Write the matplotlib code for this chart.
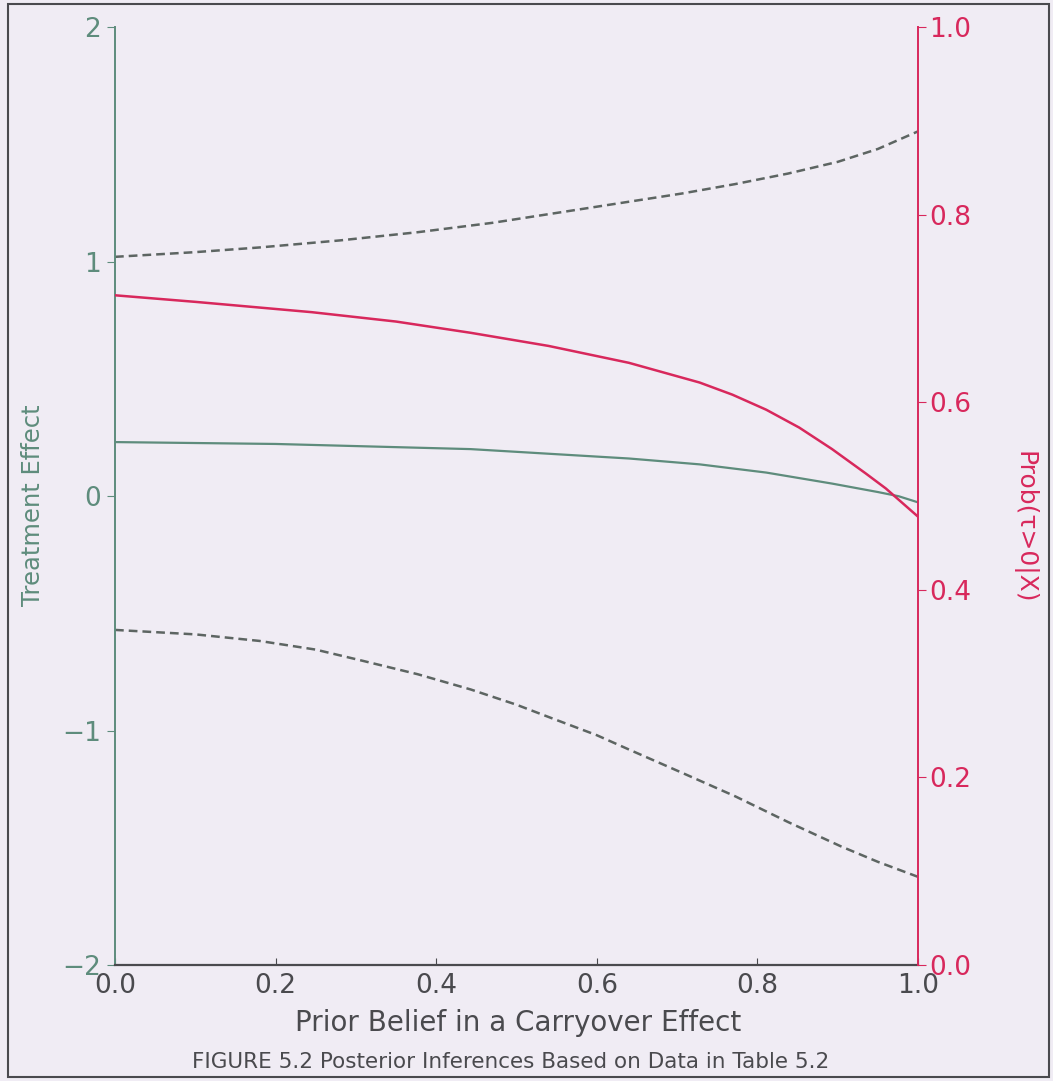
import numpy as np
import matplotlib.pyplot as plt
from matplotlib.patches import Rectangle

# treatment effect: upper interval limit
x_upper = [0.0, 0.1, 0.18, 0.28, 0.377, 0.47, 0.574, 0.64, 0.706, 0.772, 0.838, 0.9, 0.95, 1.0]
upper = [1.02, 1.04, 1.06, 1.09, 1.125, 1.165, 1.22, 1.255, 1.29, 1.33, 1.375, 1.425, 1.48, 1.555]

# treatment effect: posterior mean
x_mean = [0.0, 0.2, 0.443, 0.64, 0.728, 0.811, 0.893, 0.95, 0.976, 1.0]
mean = [0.23, 0.222, 0.20, 0.16, 0.135, 0.10, 0.053, 0.017, -0.001, -0.027]

# treatment effect: lower interval limit
x_lower = [0.0, 0.1, 0.18, 0.25, 0.31, 0.377, 0.443, 0.5, 0.542, 0.6, 0.64, 0.706, 0.772, 0.838, 0.904, 0.95, 1.0]
lower = [-0.571, -0.59, -0.618, -0.655, -0.704, -0.76, -0.825, -0.89, -0.945, -1.02, -1.081, -1.18, -1.28, -1.39, -1.494, -1.56, -1.624]

# posterior probability that the treatment effect is positive
x_prob = [0.0, 0.1, 0.245, 0.35, 0.443, 0.54, 0.64, 0.728, 0.769, 0.811, 0.852, 0.893, 0.935, 0.96, 0.976, 1.0]
prob_pos = [0.714, 0.707, 0.696, 0.686, 0.674, 0.660, 0.642, 0.621, 0.608, 0.592, 0.573, 0.550, 0.524, 0.508, 0.496, 0.478]

xticks = [0.0, 0.2, 0.4, 0.6, 0.8, 1.0]
left_ticks = [-2, -1, 0, 1, 2]
right_ticks = [0.0, 0.2, 0.4, 0.6, 0.8, 1.0]

bg = '#f0ecf4'
green = '#5e8c7c'
red = '#d8285c'
grey = '#5d6562'
dark = '#4a4a4e'

plt.rcParams['font.family'] = ['DejaVu Sans']

fig = plt.figure(figsize=(10.53, 10.81), dpi=100, facecolor=bg)
ax = fig.add_axes([0.1092, 0.1073, 0.7626, 0.8677])
ax.set_facecolor(bg)

ax.plot(x_upper, upper, color=grey, lw=1.8, ls=(0, (3.5, 2)))
ax.plot(x_lower, lower, color=grey, lw=1.8, ls=(0, (3.5, 2)))
ax.plot(x_mean, mean, color=green, lw=1.6)

ax.set_xlim(0, 1)
ax.set_ylim(-2, 2)
ax.set_xticks(xticks)
ax.set_xticklabels(['%.1f' % t for t in xticks], fontsize=19, color=dark)
ax.set_yticks(left_ticks)
ax.set_yticklabels(['\u2212' + str(-t) if t < 0 else str(t) for t in left_ticks],
                   fontsize=19, color=green)
ax.tick_params(axis='x', direction='in', length=5, color=dark, pad=6)
ax.tick_params(axis='y', direction='out', length=6, color=green, pad=4)
ax.set_xlabel('Prior Belief in a Carryover Effect', fontsize=20, color=dark)
ax.xaxis.set_label_coords(0.502, -0.047)
ax.set_ylabel('Treatment Effect', fontsize=17.5, color=green, va='center')
ax.yaxis.set_label_coords(-0.102, 0.49)

for s in ['top', 'right']:
    ax.spines[s].set_visible(False)
ax.spines['left'].set_color(green)
ax.spines['bottom'].set_color(dark)
ax.spines['left'].set_linewidth(1.4)
ax.spines['bottom'].set_linewidth(1.6)

ax2 = ax.twinx()
ax2.plot(x_prob, prob_pos, color=red, lw=1.8)
ax2.set_ylim(0, 1)
ax2.set_yticks(right_ticks)
ax2.set_yticklabels(['%.1f' % t for t in right_ticks], fontsize=19, color=red)
ax2.tick_params(axis='y', direction='out', length=6, color=red, pad=2)
ax2.set_ylabel('Prob(\u03c4>0|X)', fontsize=18, color=red, rotation=270,
               va='center', ha='center')
ax2.yaxis.set_label_coords(1.132, 0.467)
for s in ['top', 'left', 'bottom']:
    ax2.spines[s].set_visible(False)
ax2.spines['right'].set_color(red)
ax2.spines['right'].set_linewidth(1.4)

fig.text(0.485, 0.0176, 'FIGURE 5.2 Posterior Inferences Based on Data in Table 5.2',
         ha='center', va='center', fontsize=15.5, color=dark)

fig.patches.append(Rectangle((0.008, 0.004), 0.988, 0.992, transform=fig.transFigure,
                             fill=False, edgecolor=dark, lw=1.5))

fig.savefig('out.png', dpi=100, facecolor=bg)
